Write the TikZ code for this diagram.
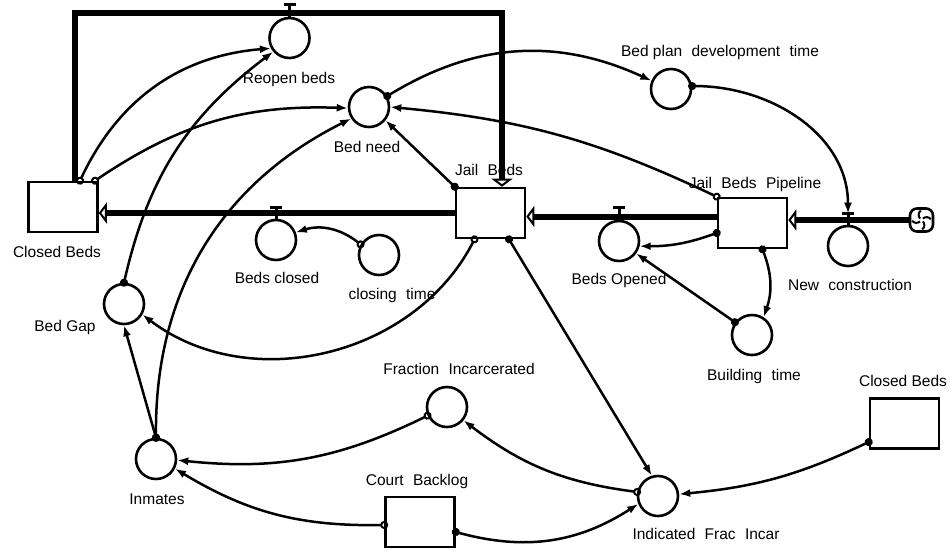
\documentclass[tikz,border=0pt]{standalone}
\usepackage{fontspec}
\setmainfont{Liberation Sans}
\usetikzlibrary{arrows.meta}

\newcommand{\wgap}{\hspace{0.6em}}

\begin{document}
\begin{tikzpicture}[x=1pt,y=-1pt]
\tikzset{every node/.style={font=\fontsize{15.5}{18}\selectfont}}
\tikzset{stock/.style={draw,line width=2.6pt,minimum width=69pt,minimum height=50pt,inner sep=0pt}}
\tikzset{conv/.style={draw,circle,line width=2.6pt,minimum size=40pt,inner sep=0pt}}
\tikzset{lbl/.style={inner sep=0pt,text height=11pt,text depth=0pt}}
\tikzset{pipe/.style={line width=6pt,-{Triangle[open,length=8pt,width=21pt,line width=2pt]}}}
\tikzset{valve/.style={line width=3pt}}
\tikzset{dlink/.style={line width=2.5pt,{Circle[length=8pt]}-{Latex[length=11pt,width=8pt]},shorten <=-4pt}}
\tikzset{olink/.style={line width=2.5pt,{Circle[open,length=8pt,line width=2pt]}-{Latex[length=11pt,width=8pt]},shorten <=-4pt}}

\useasboundingbox (0,0) rectangle (950,550);

% stocks
\node[stock] (cbL) at (63,207) {};
\node[stock] (jb) at (490.5,213) {};
\node[stock] (jbp) at (752.5,223) {};
\node[stock] (cbR) at (904.5,423.5) {};
\node[stock] (cblog) at (420,522) {};

% flows and converters
\node[conv] (reopen) at (289.5,38) {};
\node[conv] (bedneed) at (369,107) {};
\node[conv] (bpdt) at (671,89) {};
\node[conv] (bclosed) at (276,240) {};
\node[conv] (ctime) at (379,255) {};
\node[conv] (bopened) at (619,241) {};
\node[conv] (newc) at (848,246) {};
\node[conv] (btime) at (752,335) {};
\node[conv] (bgap) at (124,304) {};
\node[conv] (inmates) at (156,459) {};
\node[conv] (fracinc) at (447,407) {};
\node[conv] (ifi) at (658,496) {};

% source cloud
\node[draw,line width=2.6pt,rounded corners=7pt,minimum size=23pt,inner sep=0pt] (cloud) at (921.5,220) {};
\foreach \a in {45,135,225,315}
  \draw[line width=2pt] (cloud.center) ++(\a:2) to[bend left=50] ++(\a+50:8);

% labels
\node[lbl] (reopenL) at (289,78) {Reopen beds};
\node[lbl] (bedneedL) at (367,147) {Bed need};
\node[lbl] (jbL) at (489,170) {Jail\wgap Beds};
\node[lbl] (bpdtL) at (720,51) {Bed plan\wgap development\wgap time};
\node[lbl] (jbpL) at (755,183) {Jail\wgap Beds\wgap Pipeline};
\node[lbl] (cbLL) at (57,252) {Closed Beds};
\node[lbl] (bclosedL) at (277,278) {Beds closed};
\node[lbl] (ctimeL) at (392,294) {closing\wgap time};
\node[lbl] (bopenedL) at (619,279) {Beds Opened};
\node[lbl] (newcL) at (850,285) {New\wgap construction};
\node[lbl] (btimeL) at (754,375) {Building\wgap time};
\node[lbl] (cbRL) at (903,381) {Closed Beds};
\node[lbl] (bgapL) at (65,326) {Bed Gap};
\node[lbl] (inmatesL) at (157,499) {Inmates};
\node[lbl] (fracincL) at (459,369) {Fraction\wgap Incarcerated};
\node[lbl] (cblogL) at (417,480) {Court\wgap Backlog};
\node[lbl] (ifiL) at (706,534) {Indicated\wgap Frac\wgap Incar};

% valves
\foreach \v/\d in {reopen/12, bclosed/11.5, bopened/12, newc/11}
  \draw[valve] (\v.north) -- ++(0,-\d) coordinate (\v-bar) ++(-6,0) -- ++(12,0);

% pipes
\coordinate (pipeTL) at (75,13);
\coordinate (pipeTR) at (502,13);
\draw[pipe] (cbL.north -| pipeTL) -- (pipeTL) -- (pipeTR) -- (pipeTR |- jb.north);
\draw[pipe] (jb.west) -- (jb.west -| cbL.east);
\coordinate (pipeB) at ([yshift=6.5]jbp.west);
\draw[pipe] (pipeB) -- (pipeB -| jb.east);
\draw[pipe] (cloud.west) -- (cloud.west -| jbp.east);

% connectors
\draw[olink] ([xshift=17]cbL.north) to[bend left=30] (reopen.209);
\draw[olink] ([xshift=32]cbL.north) to[bend left=18] (bedneed.183);
\draw[dlink] (bgap.north) to[bend left=20] (reopen.220);
\draw[dlink] (inmates.north) to[bend left=32] (bedneed.213);
\draw[dlink] (inmates.north) -- (bgap.south);
\draw[dlink] (jb.north west) -- (bedneed.-39);
\draw[dlink] (bedneed.31) to[bend left=28] (bpdt.157);
\draw[olink] (jbp.north west) to[bend right=10] (bedneed.east);
\draw[dlink] (bpdt.8) to[out=0,in=90] (newc-bar);
\draw[olink] (ctime.150) to[bend right=28] (bclosed.21);
\draw[olink] ([xshift=-16]jb.south) to[bend left=50] (bgap.-30);
\draw[dlink] ([xshift=18.5]jb.south) -- (ifi.107);
\draw[dlink] ([yshift=-10]jbp.west) to[bend left=10] (bopened.-14);
\draw[dlink] ([xshift=10]jbp.south) to[bend left=20] (btime.57);
\draw[dlink] (btime.143) -- (bopened.-36);
\draw[olink] (fracinc.204) to[bend left=16] (inmates.-3);
\draw[olink] (ifi.169) to[bend left=15] (fracinc.-39);
\draw[olink] ([yshift=-3]cblog.west) to[bend left=16] (inmates.-27);
\draw[dlink] ([yshift=-10]cblog.east) to[bend right=24] (ifi.202);
\draw[dlink] ([yshift=-18.5]cbR.west) to[bend left=10] (ifi.5);

\end{tikzpicture}
\end{document}
